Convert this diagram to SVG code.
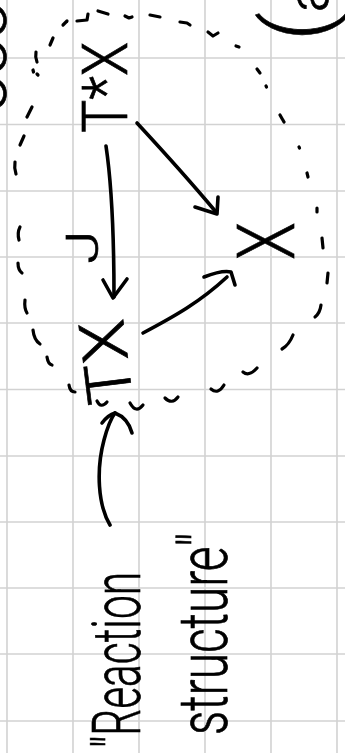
<svg xmlns="http://www.w3.org/2000/svg" width="345" height="753" viewBox="0 0 345 753">
<style>
.grid{stroke:#d2d2d2;stroke-width:1.6;fill:none}
.ink{stroke:#000;stroke-width:3.6;fill:none;stroke-linecap:round;stroke-linejoin:round}
.dash{stroke:#000;stroke-width:3.2;fill:none;stroke-linecap:round;stroke-linejoin:round}
.hand{font-family:Roboto,"Liberation Sans","DejaVu Sans",sans-serif;font-weight:300;fill:#000;stroke:#000;stroke-width:0.7}
</style>
<rect width="345" height="753" fill="#fff"/>
<g id="grid" class="grid">
<path d="M7,0V753M73,0V753M139,0V753M205,0V753M271,0V753M337,0V753"/>
<path d="M0,58H345M0,124.5H345M0,191H345M0,257H345M0,323H345M0,389.5H345M0,456H345M0,522H345M0,588H345M0,654H345M0,721H345"/>
</g>
<g id="fragments">
<text class="hand" transform="translate(6,112) rotate(-90)" font-size="60" textLength="110" lengthAdjust="spacingAndGlyphs">ooo</text>
<text class="hand" transform="translate(328,41) rotate(-90)"><tspan font-size="90">(</tspan><tspan font-size="58">a</tspan></text>
</g>
<g id="reaction-loop">
<path class="dash" d="M77,21L87,20L88,14"/>
<path class="dash" d="M98,11L108,14"/>
<path class="dash" d="M125,16L129,18L132,17"/>
<path class="dash" d="M150,15L160,17"/>
<path class="dash" d="M180,22L187,23L190,25"/>
<path class="dash" d="M208,32L213,36L218,33"/>
<path class="dash" d="M236,46L239,47"/>
<path class="dash" d="M257,69L260,73"/>
<path class="dash" d="M266,86L266.5,87"/>
<path class="dash" d="M280,115L284,122"/>
<path class="dash" d="M299,147L299.5,148"/>
<path class="dash" d="M307,173L308,177"/>
<path class="dash" d="M317,208L317,212"/>
<path class="dash" d="M322,238L323,248"/>
<path class="dash" d="M328,273L327,283"/>
<path class="dash" d="M321,305Q320,313 315,317"/>
<path class="dash" d="M293,335Q289,345 282,349"/>
<path class="dash" d="M243,372Q249,377 257,368"/>
<path class="dash" d="M211,389Q218,395 224,385"/>
<path class="dash" d="M165,398Q172,405 178,397"/>
<path class="dash" d="M130,403Q136,414 143,405"/>
<path class="dash" d="M97,401Q101,409 107,402"/>
<path class="dash" d="M69,385Q70,392 75,392"/>
<path class="dash" d="M47,357Q48,364 52,365"/>
<path class="dash" d="M33,330Q34,340 40,344"/>
<path class="dash" d="M25,300Q24,308 27,313"/>
<path class="dash" d="M18,263Q18,270 22,273"/>
<path class="dash" d="M20,227Q17,233 19,240"/>
<path class="dash" d="M15,162Q14,168 16,174"/>
<path class="dash" d="M24,136L20,145"/>
<path class="dash" d="M32,107L27,117"/>
<path class="dash" d="M33,70L33.5,72"/>
<path class="dash" d="M37,74L38,75"/>
<path class="dash" d="M36,52Q35,57 37,62"/>
<path class="dash" d="M53,38L50,45"/>
<path class="dash" d="M67,21L63,25"/>
</g>
<g id="node-TstarX">
<text class="hand" transform="translate(127,133) rotate(-90)" font-size="63" textLength="91" lengthAdjust="spacingAndGlyphs">T*X</text>
</g>
<g id="node-TX">
<text class="hand" transform="translate(133,401) rotate(-97)" font-size="63" textLength="84" lengthAdjust="spacingAndGlyphs">TX</text>
</g>
<g id="node-X">
<text class="hand" transform="translate(294,260) rotate(-90)" font-size="80" textLength="38" lengthAdjust="spacingAndGlyphs">X</text>
</g>
<g id="label-J">
<text class="hand" transform="translate(98,264) rotate(-90)" font-size="45" textLength="34" lengthAdjust="spacingAndGlyphs">J</text>
</g>
<g id="label-reaction-structure">
<text class="hand" transform="translate(140,748) rotate(-90)" font-size="66" textLength="176" lengthAdjust="spacingAndGlyphs">"Reaction</text>
<text class="hand" transform="translate(227,735) rotate(-90)" font-size="68" textLength="202" lengthAdjust="spacingAndGlyphs">structure"</text>
</g>
<g id="connectors" class="ink">
<path d="M137,123C162,150 190,181 216,212"/>
<path d="M195,207L217,214L218,197"/>
<path d="M106,146Q114,200 114,297"/>
<path d="M103,280L113,298L127,279"/>
<path d="M143,333C175,316 200,302 227,277"/>
<path d="M204,277Q222,270 231,272L235,285"/>
<path d="M110,525C98,505 96,470 104,440C108,425 112,417 115,413"/>
<path d="M102,423Q108,415 115,413Q128,418 132,433"/>
</g>
</svg>
